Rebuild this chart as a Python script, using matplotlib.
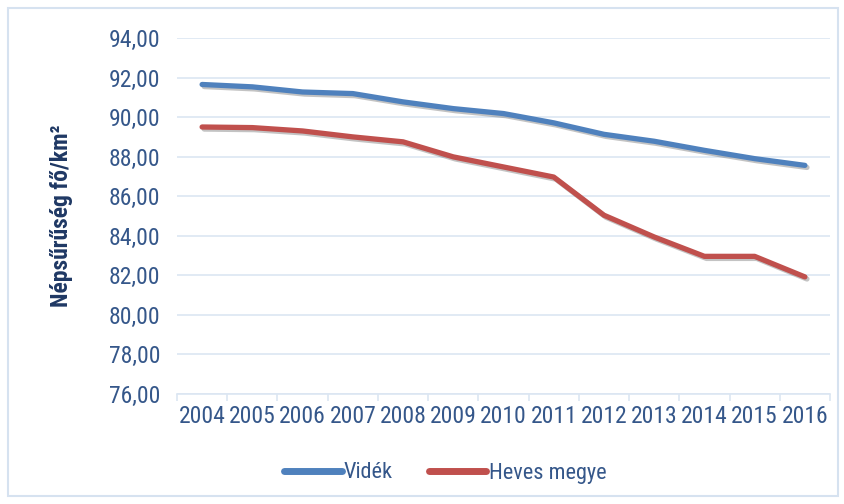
import matplotlib
matplotlib.use("Agg")
import matplotlib.pyplot as plt
import matplotlib.patheffects as pe
from matplotlib.patches import Rectangle
from matplotlib.ticker import FixedLocator, FuncFormatter

years = ["2004", "2005", "2006", "2007", "2008", "2009", "2010",
         "2011", "2012", "2013", "2014", "2015", "2016"]
videk = [91.65, 91.53, 91.27, 91.19, 90.77, 90.43, 90.18,
         89.71, 89.13, 88.78, 88.32, 87.90, 87.56]
heves = [89.50, 89.47, 89.30, 89.00, 88.75, 87.99, 87.48,
         86.97, 85.04, 83.94, 82.96, 82.96, 81.92]

plt.rcParams["font.family"] = ["Roboto Condensed", "DejaVu Sans"]

txt = "#35578a"
grid_c = "#dce6f2"

fig = plt.figure(figsize=(8.45, 5.04), dpi=100)
ax = fig.add_axes([177 / 845, 1 - 394 / 504, (830 - 177) / 845, (394 - 38) / 504])

fig.patches.append(Rectangle((8 / 845, 8 / 504), 830 / 845, 488 / 504,
                             transform=fig.transFigure, fill=False,
                             edgecolor="#d6e2f0", linewidth=1.5))

x = list(range(len(years)))
shadow = [pe.SimpleLineShadow(offset=(1.5, -1.5), alpha=0.35, shadow_color="#555555"), pe.Normal()]
ax.plot(x, videk, color="#4f81bd", lw=3.8, solid_capstyle="round", label="Vidék",
        path_effects=shadow, zorder=3)
ax.plot(x, heves, color="#c0504d", lw=3.8, solid_capstyle="round", label="Heves megye",
        path_effects=shadow, zorder=3)

ax.set_xlim(-0.5, len(years) - 0.5)
ax.set_ylim(76, 94)
ax.set_yticks(range(76, 95, 2))
ax.yaxis.set_major_formatter(FuncFormatter(lambda v, p: f"{v:.2f}".replace(".", ",")))
ax.set_xticks(x)
ax.set_xticklabels(years)
ax.xaxis.set_minor_locator(FixedLocator([i - 0.5 for i in range(len(years) + 1)]))

ax.grid(axis="y", color=grid_c, lw=1.2)
ax.set_axisbelow(True)
for s in ["top", "right", "left"]:
    ax.spines[s].set_visible(False)
ax.spines["bottom"].set_color(grid_c)
ax.spines["bottom"].set_linewidth(1.2)

ax.tick_params(axis="y", length=0, pad=12, labelsize=17, labelcolor=txt)
ax.tick_params(axis="x", which="major", length=0, pad=8, labelsize=17, labelcolor=txt)
ax.tick_params(axis="x", which="minor", length=5, color=grid_c, width=1.2)

ax.set_ylabel("Népsűrűség fő/km²", fontsize=17, fontweight="bold", color="#1f3864",
              labelpad=26)

leg = fig.legend(loc="center", bbox_to_anchor=(445 / 845, 1 - 473 / 504), ncol=2,
                 frameon=False, fontsize=16, handlelength=2.6, handletextpad=0.1,
                 columnspacing=1.6, labelcolor=txt)
for h in leg.get_lines():
    h.set_linewidth(5)
    h.set_path_effects([])

fig.savefig("out.png", dpi=100)
